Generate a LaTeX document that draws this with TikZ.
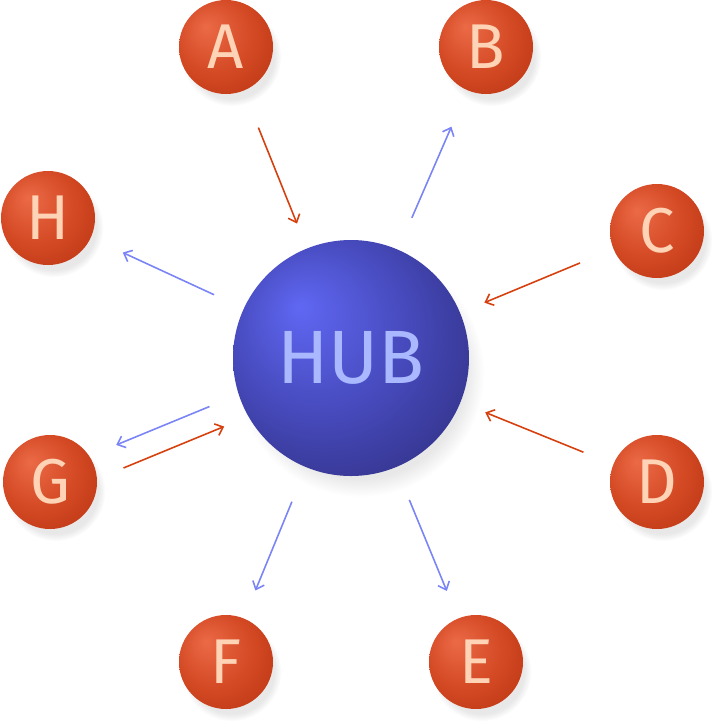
\documentclass[tikz,border=0pt]{standalone}
\usepackage{fontspec}
\setmainfont{Fira Sans}
\usetikzlibrary{arrows.meta,shadows}

\definecolor{ballhi}{HTML}{EC6A47}
\definecolor{ballmid}{HTML}{D44A25}
\definecolor{balllo}{HTML}{B8340F}
\definecolor{balltext}{HTML}{FFD3B5}
\definecolor{hubhi}{HTML}{6067F3}
\definecolor{hubmid}{HTML}{4548B8}
\definecolor{hublo}{HTML}{2D2B78}
\definecolor{hubtext}{HTML}{AAB8FF}
\definecolor{inarrow}{HTML}{D6400E}
\definecolor{outarrow}{HTML}{7A84F6}

\pgfdeclareradialshading{ballshade}{\pgfpoint{-11bp}{11bp}}{color(0bp)=(ballhi); color(20bp)=(ballmid); color(40bp)=(balllo); color(50bp)=(balllo)}
\pgfdeclareradialshading{hubshade}{\pgfpoint{-11bp}{11bp}}{color(0bp)=(hubhi); color(20bp)=(hubmid); color(40bp)=(hublo); color(50bp)=(hublo)}

\tikzset{
	ball/.style={circle, minimum size=1.88cm, inner sep=0pt, shading=ballshade, text=balltext,
		font=\fontsize{36}{36}\selectfont,
		circular drop shadow={shadow xshift=3pt, shadow yshift=-5pt, shadow scale=1.06, opacity=0.18}},
	hubball/.style={circle, minimum size=4.72cm, inner sep=0pt, shading=hubshade, text=hubtext,
		font=\fontsize{43}{43}\selectfont,
		circular drop shadow={shadow xshift=5pt, shadow yshift=-8pt, shadow scale=1.05, opacity=0.18}},
	inline/.style={draw=inarrow, line width=0.9pt, -{Straight Barb[length=4pt,width=7pt]}},
	outline/.style={draw=outarrow, line width=0.9pt, -{Straight Barb[length=4pt,width=7pt]}}
}

\begin{document}
\begin{tikzpicture}
	\useasboundingbox (0,0) rectangle (14.24,-14.54);

	\node[hubball] (hub) at (7.02,-7.16) {HUB};

	\node[ball] (A) at (4.52,-0.94) {A};
	\node[ball] (B) at (9.72,-0.94) {B};
	\node[ball] (C) at (13.14,-4.62) {C};
	\node[ball] (D) at (13.14,-9.64) {D};
	\node[ball] (E) at (9.52,-13.24) {E};
	\node[ball] (F) at (4.52,-13.24) {F};
	\node[ball] (G) at (1.0,-9.64) {G};
	\node[ball] (H) at (0.96,-4.36) {H};

	\draw[inline, shorten <=0.79cm, shorten >=0.53cm] (A) -- (hub);
	\draw[outline, shorten <=0.69cm, shorten >=0.79cm] (hub) -- (B);
	\draw[inline, shorten <=0.72cm, shorten >=0.52cm] (C) -- (hub);
	\draw[inline, shorten <=0.64cm, shorten >=0.53cm] (D) -- (hub);
	\draw[outline, shorten <=0.70cm, shorten >=0.59cm] (hub) -- (E);
	\draw[outline, shorten <=0.74cm, shorten >=0.60cm] (hub) -- (F);
	\draw[inline, shorten <=0.52cm, shorten >=0.50cm, transform canvas={shift={(0.114,-0.278)}}] (G) -- (hub);
	\draw[outline, shorten <=0.62cm, shorten >=0.56cm, transform canvas={shift={(-0.069,0.167)}}] (hub) -- (G);
	\draw[outline, shorten <=0.65cm, shorten >=0.70cm] (hub) -- (H);
\end{tikzpicture}
\end{document}
